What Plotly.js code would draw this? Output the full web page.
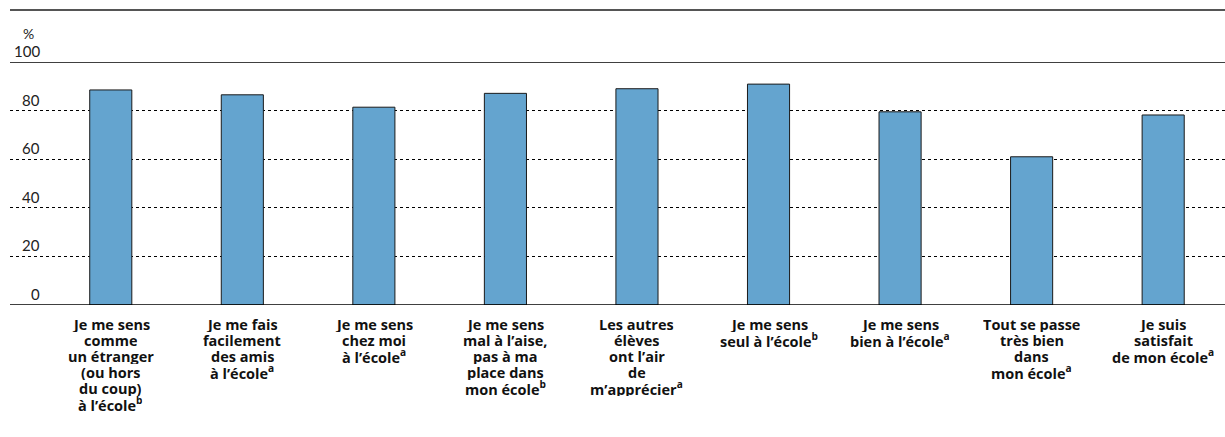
<!DOCTYPE html>
<html>
<head>
<meta charset="utf-8">
<script src="https://cdn.plot.ly/plotly-3.0.1.min.js"></script>
<style>
  html, body { margin: 0; padding: 0; background: #fff; }
  #chart { width: 1225px; height: 437px; }
</style>
</head>
<body>
<div id="chart"></div>
<script>
// catégories (axe x) et valeurs en %
var categories = [
    "Je me sens<br>comme<br>un étranger<br>(ou hors<br>du coup)<br>à l’école<sup>b</sup>",
    "Je me fais<br>facilement<br>des amis<br>à l’école<sup>a</sup>",
    "Je me sens<br>chez moi<br>à l’école<sup>a</sup>",
    "Je me sens<br>mal à l’aise,<br>pas à ma<br>place dans<br>mon école<sup>b</sup>",
    "Les autres<br>élèves<br>ont l’air<br>de<br>m’apprécier<sup>a</sup>",
    "Je me sens<br>seul à l’école<sup>b</sup>",
    "Je me sens<br>bien à l’école<sup>a</sup>",
    "Tout se passe<br>très bien<br>dans<br>mon école<sup>a</sup>",
    "Je suis<br>satisfait<br>de mon école<sup>a</sup>"
];
var values = [88.5, 86.5, 81.4, 87.1, 89.0, 90.9, 79.5, 61.0, 78.2];
var yTicks = [0, 20, 40, 60, 80, 100];

var font = "Lato, 'Open Sans', sans-serif";
var labelFont = "'Open Sans', Lato, sans-serif";

var xIdx = categories.map(function (c, i) { return i; });

var bars = {
    type: 'bar',
    x: xIdx,
    y: values,
    width: 0.32,
    marker: {
        color: '#64a4cf',
        line: { color: '#1a1a1a', width: 1 }
    },
    hoverinfo: 'y'
};

// étiquettes de l'axe y posées au-dessus des lignes
var annotations = yTicks.map(function (t) {
    return {
        xref: 'paper', yref: 'y',
        x: 0.0265, y: t,
        xanchor: 'right', yanchor: 'bottom',
        text: String(t),
        showarrow: false,
        font: { family: font, size: 15, color: '#222' }
    };
});
annotations.push({
    xref: 'paper', yref: 'y',
    x: 0.0215, y: 100, yshift: 18,
    xanchor: 'right', yanchor: 'bottom',
    text: '%', showarrow: false,
    font: { family: font, size: 14, color: '#222' }
});
annotations.push({
    xref: 'paper', yref: 'paper',
    x: 0.576, y: 1.243,
    xanchor: 'center', yanchor: 'bottom',
    text: '(%)', showarrow: false,
    font: { family: font, size: 14, color: '#555' }
});

// étiquettes de catégories, une ligne par annotation (interligne serré)
categories.forEach(function (c, i) {
    c.split('<br>').forEach(function (line, k) {
        annotations.push({
            xref: 'x', yref: 'paper',
            x: i, y: 0,
            yshift: -(10 + k * 16),
            xanchor: 'center', yanchor: 'top',
            height: 16,
            borderpad: 0,
            text: '<b>' + line + '</b>',
            showarrow: false,
            font: { family: labelFont, size: 14.5, color: '#111' }
        });
    });
});

var layout = {
    width: 1225,
    height: 437,
    margin: { l: 10, r: 0, t: 62, b: 132 },
    paper_bgcolor: '#fff',
    plot_bgcolor: '#fff',
    showlegend: false,
    font: { family: font, color: '#111' },
    xaxis: {
        range: [-0.766, 8.47],
        tickvals: xIdx,
        showticklabels: false,
        ticks: '',
        showgrid: false,
        zeroline: false,
        showline: false
    },
    yaxis: {
        range: [0, 100],
        tickvals: yTicks,
        showticklabels: false,
        showgrid: true,
        gridcolor: '#000',
        gridwidth: 1,
        griddash: 'dot',
        zeroline: false,
        showline: false
    },
    shapes: [
        { type: 'line', xref: 'paper', yref: 'y', x0: 0, x1: 1, y0: 0, y1: 0, line: { color: '#000', width: 1.5 } },
        { type: 'line', xref: 'paper', yref: 'y', x0: 0, x1: 1, y0: 100, y1: 100, line: { color: '#000', width: 1.5 } },
        { type: 'line', xref: 'paper', yref: 'paper', x0: 0, x1: 1, y0: 1.214, y1: 1.214, line: { color: '#555', width: 2 } }
    ],
    annotations: annotations
};

Plotly.newPlot('chart', [bars], layout, { displayModeBar: false, staticPlot: true });
</script>
</body>
</html>
